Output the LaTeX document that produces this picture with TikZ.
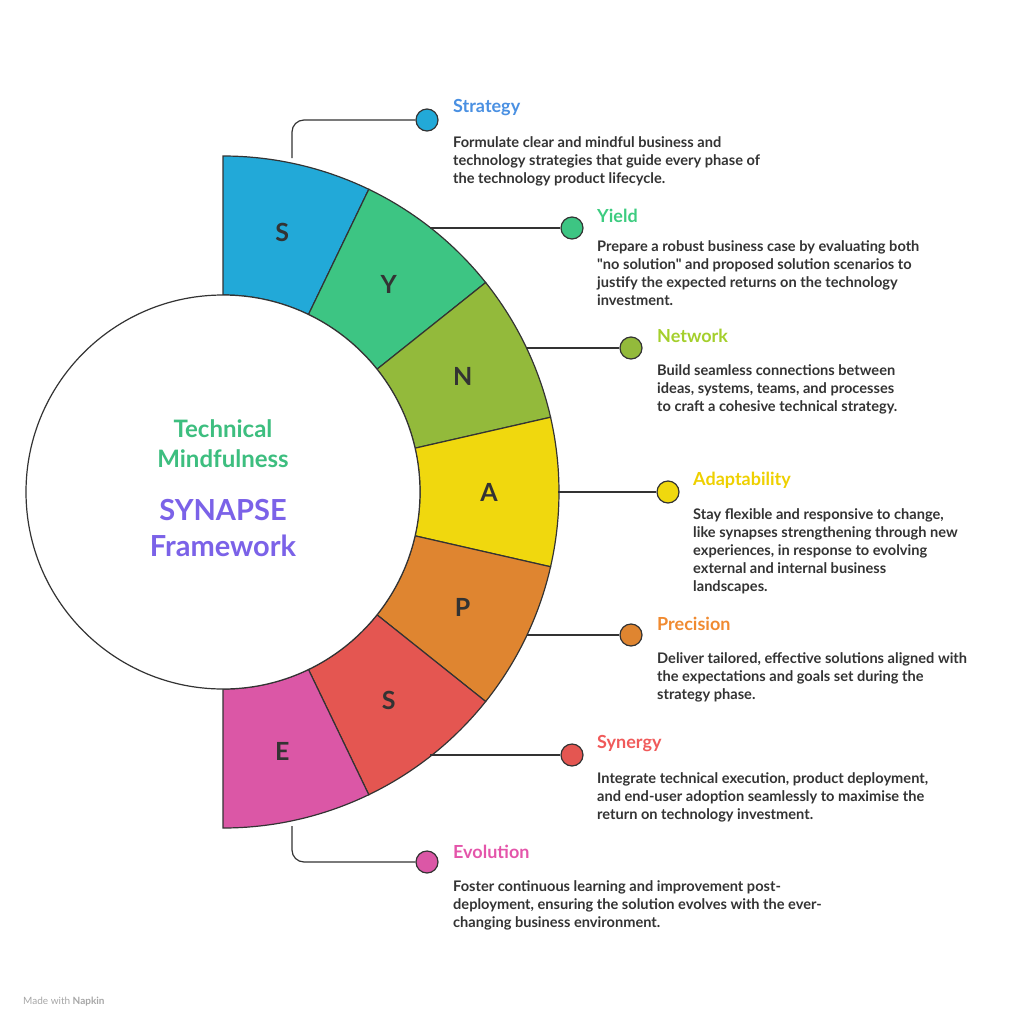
\documentclass[tikz,border=0pt]{standalone}
\usepackage{fontspec}
\setmainfont{Lato}
\usetikzlibrary{calc}
\definecolor{cS}{HTML}{22A9D8}\definecolor{cY}{HTML}{3DC583}\definecolor{cN}{HTML}{93BA3B}
\definecolor{cA}{HTML}{F0D80E}\definecolor{cP}{HTML}{DF8530}\definecolor{cR}{HTML}{E45651}
\definecolor{cE}{HTML}{DB57A6}
\definecolor{tS}{HTML}{4A90E2}\definecolor{tY}{HTML}{3DCC80}\definecolor{tN}{HTML}{A4CF2C}
\definecolor{tA}{HTML}{EED000}\definecolor{tP}{HTML}{F08A30}\definecolor{tR}{HTML}{F05A5A}
\definecolor{tE}{HTML}{E455AA}\definecolor{ink}{HTML}{333333}
\definecolor{cgreen}{HTML}{3DBE7F}\definecolor{cpurple}{HTML}{7B62E8}
\tikzset{
 seg/.style={draw=ink,line width=1.2pt},
 letter/.style={font=\bfseries\fontsize{25}{25}\selectfont,text=ink},
 conn/.style={draw=ink,line width=1.2pt,rounded corners=12pt},
 dot/.style={circle,draw=ink,line width=1.2pt,minimum size=22pt,inner sep=0pt},
 ttl/.style={anchor=west,font=\bfseries\fontsize{18}{18}\selectfont,inner sep=0pt},
 body/.style={anchor=north west,align=left,font=\bfseries\fontsize{14.6}{18}\selectfont,text=ink,inner sep=0pt}
}
\begin{document}
\begin{tikzpicture}[x=1pt,y=-1pt]
\useasboundingbox (0,0) rectangle (1028,1031);
\coordinate (C) at (223,492);
\foreach \i/\c/\l in {0/cS/S,1/cY/Y,2/cN/N,3/cA/A,4/cP/P,5/cR/S,6/cE/E}{
 \pgfmathsetmacro{\aa}{-90+\i*180/7}
 \pgfmathsetmacro{\ab}{-90+(\i+1)*180/7}
 \pgfmathsetmacro{\am}{(\aa+\ab)/2}
 \draw[seg,fill=\c] ([shift={(\aa:197)}]C) -- ([shift={(\aa:336)}]C) arc[start angle=\aa,end angle=\ab,radius=336] -- ([shift={(\ab:197)}]C) arc[start angle=\ab,end angle=\aa,radius=197] -- cycle;
 \node[letter] (L\i) at ([shift={(\am:266)}]C) {\l};
}
\draw[seg,fill=white] (C) circle[radius=197];
\node[font=\bfseries\fontsize{24}{30}\selectfont,text=cgreen,align=center] (t1) at (223,444) {Technical\\Mindfulness};
\node[font=\bfseries\fontsize{29}{36}\selectfont,text=cpurple,align=center] (t2) at (223,528) {SYNAPSE\\Framework};
\node[dot,fill=cS] (d1) at (427,120) {};
\node[dot,fill=cY] (d2) at (572,228) {};
\node[dot,fill=cN] (d3) at (631,348) {};
\node[dot,fill=cA] (d4) at (668,492) {};
\node[dot,fill=cP] (d5) at (631,635) {};
\node[dot,fill=cR] (d6) at (572,755) {};
\node[dot,fill=cE] (d7) at (427,862) {};
\coordinate (s1) at (292,158);\coordinate (s2) at (430,228);\coordinate (s3) at (527,348);
\coordinate (s4) at (558,492);\coordinate (s5) at (527,635);\coordinate (s6) at (430,755);
\coordinate (s7) at (292,826);
\draw[conn] (s1) |- (d1.west);
\draw[conn] (s2) -- (d2.west);\draw[conn] (s3) -- (d3.west);\draw[conn] (s4) -- (d4.west);
\draw[conn] (s5) -- (d5.west);\draw[conn] (s6) -- (d6.west);
\draw[conn] (s7) |- (d7.west);
\node[ttl,text=tS] (h1) at (453,108) {Strategy};
\node[body] (b1) at (453,136) {Formulate clear and mindful business and\\technology strategies that guide every phase of\\the technology product lifecycle.};
\node[ttl,text=tY] (h2) at (597,216) {Yield};
\node[body] (b2) at (597,240) {Prepare a robust business case by evaluating both\\\textquotedbl no solution\textquotedbl{} and proposed solution scenarios to\\justify the expected returns on the technology\\investment.};
\node[ttl,text=tN] (h3) at (657,336) {Network};
\node[body] (b3) at (657,364) {Build seamless connections between\\ideas, systems, teams, and processes\\to craft a cohesive technical strategy.};
\node[ttl,text=tA] (h4) at (693,480) {Adaptability};
\node[body] (b4) at (693,508) {Stay flexible and responsive to change,\\like synapses strengthening through new\\experiences, in response to evolving\\external and internal business\\landscapes.};
\node[ttl,text=tP] (h5) at (657,624) {Precision};
\node[body] (b5) at (657,652) {Deliver tailored, effective solutions aligned with\\the expectations and goals set during the\\strategy phase.};
\node[ttl,text=tR] (h6) at (597,744) {Synergy};
\node[body] (b6) at (597,772) {Integrate technical execution, product deployment,\\and end-user adoption seamlessly to maximise the\\return on technology investment.};
\node[ttl,text=tE] (h7) at (453,852) {Evolution};
\node[body] (b7) at (453,880) {Foster continuous learning and improvement post-\\deployment, ensuring the solution evolves with the ever-\\changing business environment.};
\node[anchor=west,font=\fontsize{10}{10}\selectfont,text=gray!70,inner sep=0pt] (ft) at (23,1002) {Made with \textbf{Napkin}};
\end{tikzpicture}
\end{document}
